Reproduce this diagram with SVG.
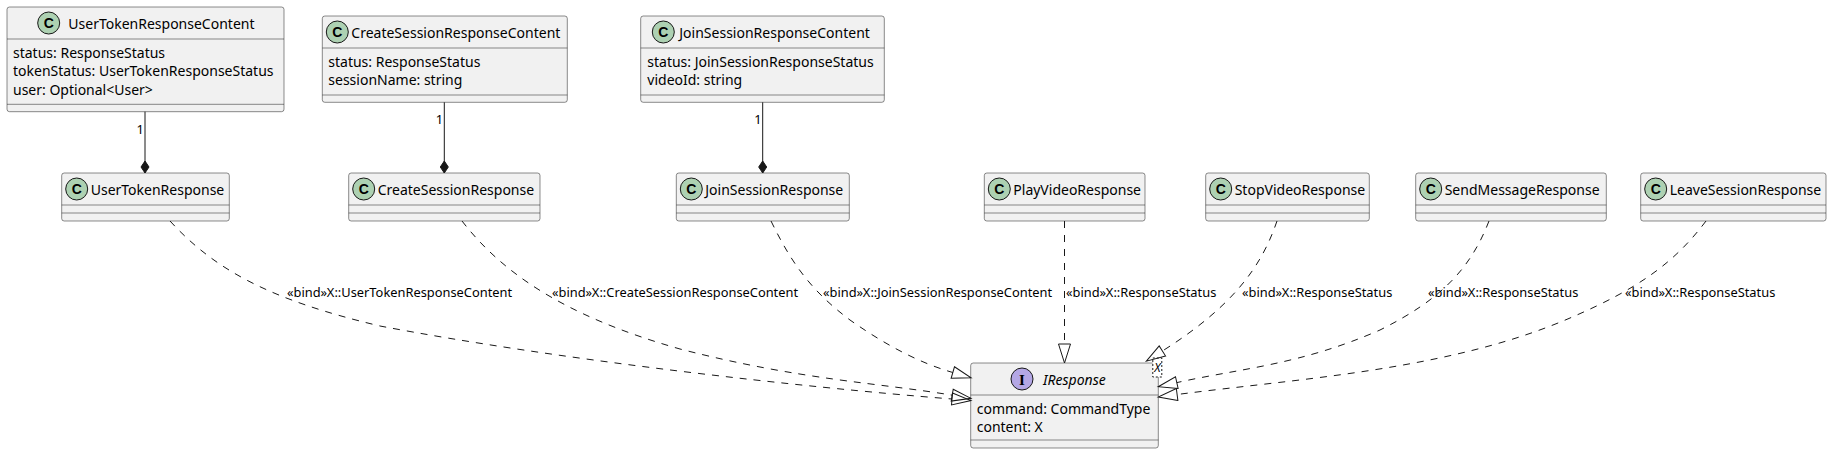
<svg xmlns="http://www.w3.org/2000/svg" width="1832" height="454" viewBox="0 0 1832 454">
<style>
.box{fill:#F1F1F1;stroke:#181818;stroke-width:0.5}
.dv{stroke:#181818;stroke-width:0.5;fill:none}
.cc{fill:#ADD1B2;stroke:#181818;stroke-width:1}
.ci{fill:#B4A7E5;stroke:#181818;stroke-width:1}
.glyph{font-family:"Liberation Sans",Arial,sans-serif;font-weight:bold;font-size:14px;fill:#000;text-anchor:middle}
.glyphI{font-family:"Liberation Serif","Times New Roman",serif;font-weight:bold;font-size:15px;fill:#000;text-anchor:middle}
.t{font-family:"Noto Sans","DejaVu Sans",sans-serif;font-size:14px;fill:#000}
.it{font-style:italic}
.lbl{font-family:"Noto Sans","DejaVu Sans",sans-serif;font-size:12.85px;fill:#000}
.edge{fill:none;stroke:#181818;stroke-width:1;stroke-dasharray:7,7}
.comp{fill:none;stroke:#181818;stroke-width:1}
.tpl{fill:#FFFFFF;stroke:#181818;stroke-width:1;stroke-dasharray:2,2}
</style>
<defs>
<marker id="tri" markerUnits="userSpaceOnUse" markerWidth="22" markerHeight="14" refX="0" refY="6" orient="auto" overflow="visible">
<path d="M0,0 L19,6 L0,12 Z" fill="none" stroke="#181818" stroke-width="1"/>
</marker>
<marker id="dia" markerUnits="userSpaceOnUse" markerWidth="14" markerHeight="10" refX="12" refY="4" orient="auto" overflow="visible">
<path d="M0,4 L6,0 L12,4 L6,8 Z" fill="#181818" stroke="#181818" stroke-width="1"/>
</marker>
</defs>

<g id="UserTokenResponseContent">
<rect class="box" x="7" y="7" width="277" height="104.7" rx="2.5"/>
<circle class="cc" cx="48.7" cy="23" r="11"/>
<text class="glyph" x="48.7" y="28">C</text>
<text class="t" x="68.3" y="28.5">UserTokenResponseContent</text>
<line class="dv" x1="7" y1="39" x2="284" y2="39"/>
<text class="t" x="13" y="57.5">status: ResponseStatus</text>
<text class="t" x="13" y="76">tokenStatus: UserTokenResponseStatus</text>
<text class="t" x="13" y="94.5">user: Optional&lt;User&gt;</text>
<line class="dv" x1="7" y1="104.3" x2="284" y2="104.3"/>
</g>

<g id="CreateSessionResponseContent">
<rect class="box" x="322.3" y="16" width="245" height="86.3" rx="2.5"/>
<circle class="cc" cx="337.3" cy="32" r="11"/>
<text class="glyph" x="337.3" y="37">C</text>
<text class="t" x="351.3" y="37.5">CreateSessionResponseContent</text>
<line class="dv" x1="322.3" y1="48" x2="567.3" y2="48"/>
<text class="t" x="328.3" y="66.5">status: ResponseStatus</text>
<text class="t" x="328.3" y="85">sessionName: string</text>
<line class="dv" x1="322.3" y1="95" x2="567.3" y2="95"/>
</g>

<g id="JoinSessionResponseContent">
<rect class="box" x="640.7" y="16" width="243.6" height="86.3" rx="2.5"/>
<circle class="cc" cx="663.3" cy="32" r="11"/>
<text class="glyph" x="663.3" y="37">C</text>
<text class="t" x="679.3" y="37.5">JoinSessionResponseContent</text>
<line class="dv" x1="640.7" y1="48" x2="884.3" y2="48"/>
<text class="t" x="647.3" y="66.5">status: JoinSessionResponseStatus</text>
<text class="t" x="647.3" y="85">videoId: string</text>
<line class="dv" x1="640.7" y1="95" x2="884.3" y2="95"/>
</g>

<g id="UserTokenResponse">
<rect class="box" x="61.7" y="173" width="167.6" height="48" rx="2.5"/>
<circle class="cc" cx="76.7" cy="189" r="11"/>
<text class="glyph" x="76.7" y="194">C</text>
<text class="t" x="90.7" y="194.5">UserTokenResponse</text>
<line class="dv" x1="61.7" y1="205" x2="229.3" y2="205"/>
<line class="dv" x1="61.7" y1="213" x2="229.3" y2="213"/>
</g>

<g id="CreateSessionResponse">
<rect class="box" x="348.7" y="173" width="191.3" height="48" rx="2.5"/>
<circle class="cc" cx="363.7" cy="189" r="11"/>
<text class="glyph" x="363.7" y="194">C</text>
<text class="t" x="377.7" y="194.5">CreateSessionResponse</text>
<line class="dv" x1="348.7" y1="205" x2="540" y2="205"/>
<line class="dv" x1="348.7" y1="213" x2="540" y2="213"/>
</g>

<g id="JoinSessionResponse">
<rect class="box" x="676.3" y="173" width="173" height="48" rx="2.5"/>
<circle class="cc" cx="691.3" cy="189" r="11"/>
<text class="glyph" x="691.3" y="194">C</text>
<text class="t" x="705.3" y="194.5">JoinSessionResponse</text>
<line class="dv" x1="676.3" y1="205" x2="849.3" y2="205"/>
<line class="dv" x1="676.3" y1="213" x2="849.3" y2="213"/>
</g>

<g id="PlayVideoResponse">
<rect class="box" x="984.3" y="173" width="160.7" height="48" rx="2.5"/>
<circle class="cc" cx="999.3" cy="189" r="11"/>
<text class="glyph" x="999.3" y="194">C</text>
<text class="t" x="1013.3" y="194.5">PlayVideoResponse</text>
<line class="dv" x1="984.3" y1="205" x2="1145" y2="205"/>
<line class="dv" x1="984.3" y1="213" x2="1145" y2="213"/>
</g>

<g id="StopVideoResponse">
<rect class="box" x="1205.7" y="173" width="163.6" height="48" rx="2.5"/>
<circle class="cc" cx="1220.7" cy="189" r="11"/>
<text class="glyph" x="1220.7" y="194">C</text>
<text class="t" x="1234.7" y="194.5">StopVideoResponse</text>
<line class="dv" x1="1205.7" y1="205" x2="1369.3" y2="205"/>
<line class="dv" x1="1205.7" y1="213" x2="1369.3" y2="213"/>
</g>

<g id="SendMessageResponse">
<rect class="box" x="1415.7" y="173" width="190.6" height="48" rx="2.5"/>
<circle class="cc" cx="1430.7" cy="189" r="11"/>
<text class="glyph" x="1430.7" y="194">C</text>
<text class="t" x="1444.7" y="194.5">SendMessageResponse</text>
<line class="dv" x1="1415.7" y1="205" x2="1606.3" y2="205"/>
<line class="dv" x1="1415.7" y1="213" x2="1606.3" y2="213"/>
</g>

<g id="LeaveSessionResponse">
<rect class="box" x="1640.7" y="173" width="185.3" height="48" rx="2.5"/>
<circle class="cc" cx="1655.7" cy="189" r="11"/>
<text class="glyph" x="1655.7" y="194">C</text>
<text class="t" x="1669.7" y="194.5">LeaveSessionResponse</text>
<line class="dv" x1="1640.7" y1="205" x2="1826" y2="205"/>
<line class="dv" x1="1640.7" y1="213" x2="1826" y2="213"/>
</g>

<g id="IResponse">
<rect class="box" x="970.7" y="363" width="187.6" height="85" rx="2.5"/>
<circle class="ci" cx="1022" cy="379" r="11"/>
<text class="glyphI" x="1022" y="384.5">I</text>
<text class="t it" x="1043" y="384.5">IResponse</text>
<line class="dv" x1="970.7" y1="395" x2="1158.3" y2="395"/>
<text class="t" x="976.7" y="413.5">command: CommandType</text>
<text class="t" x="976.7" y="432">content: X</text>
<line class="dv" x1="970.7" y1="440" x2="1158.3" y2="440"/>
<rect class="tpl" x="1152.8" y="358" width="9" height="19"/>
<text class="t it" x="1157.3" y="372" text-anchor="middle" style="font-size:12px">X</text>
</g>

<g id="connectors">
<line class="comp" x1="145" y1="111.7" x2="145" y2="173" marker-end="url(#dia)"/>
<text class="lbl" x="136.5" y="134">1</text>
<line class="comp" x1="444.3" y1="102.3" x2="444.3" y2="173" marker-end="url(#dia)"/>
<text class="lbl" x="435.8" y="124">1</text>
<line class="comp" x1="762.7" y1="102.3" x2="762.7" y2="173" marker-end="url(#dia)"/>
<text class="lbl" x="754.2" y="124">1</text>

<path class="edge" d="M170,221 C215,270 270,300 380,326 C560,360 800,387 952,399" marker-end="url(#tri)"/>
<path class="edge" d="M462,221 C500,270 560,315 680,349 C800,380 880,383 952.2,395.2" marker-end="url(#tri)"/>
<path class="edge" d="M771,221 C791,262 810,290 850,320 C887,346 920,363 952.8,372.5" marker-end="url(#tri)"/>
<path class="edge" d="M1064.5,221 L1064.5,344" marker-end="url(#tri)"/>
<path class="edge" d="M1277,221 C1262,265 1235,305 1162.4,351" marker-end="url(#tri)"/>
<path class="edge" d="M1489,221 C1470,270 1440,300 1380,330 C1300,365 1240,368.5 1176.8,382.6" marker-end="url(#tri)"/>
<path class="edge" d="M1706,221 C1675,262 1640,288 1570,318 C1450,370 1300,378.5 1177.1,394.5" marker-end="url(#tri)"/>

<text class="lbl" x="287" y="297">«bind»X::UserTokenResponseContent</text>
<text class="lbl" x="552" y="297">«bind»X::CreateSessionResponseContent</text>
<text class="lbl" x="823" y="297">«bind»X::JoinSessionResponseContent</text>
<text class="lbl" x="1066" y="297">«bind»X::ResponseStatus</text>
<text class="lbl" x="1242" y="297">«bind»X::ResponseStatus</text>
<text class="lbl" x="1428" y="297">«bind»X::ResponseStatus</text>
<text class="lbl" x="1625" y="297">«bind»X::ResponseStatus</text>
</g>
</svg>
